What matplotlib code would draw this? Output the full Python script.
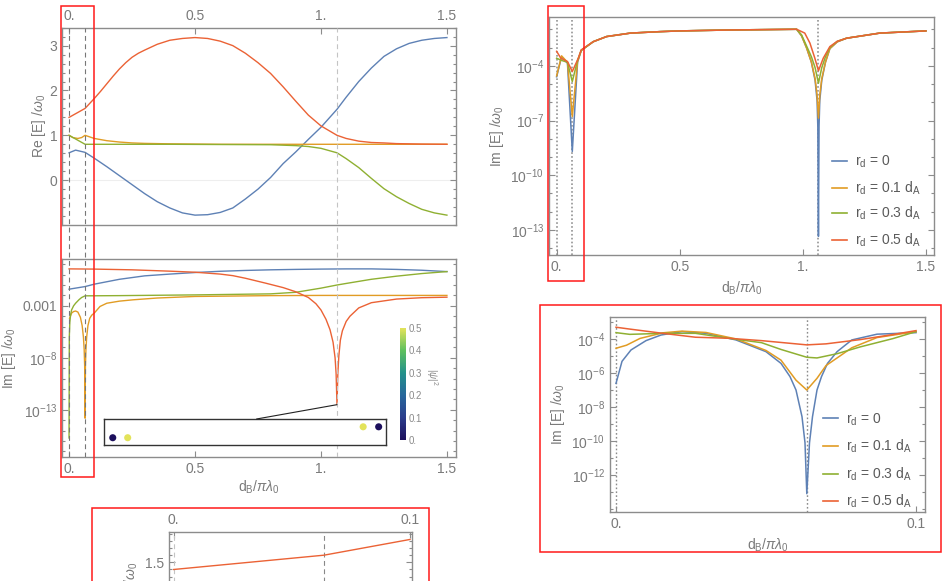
import numpy as np
import matplotlib
matplotlib.use('Agg')
import matplotlib.pyplot as plt
from matplotlib.patches import Rectangle, ConnectionPatch
from matplotlib.lines import Line2D
from matplotlib.colors import LinearSegmentedColormap, Normalize
from matplotlib.cm import ScalarMappable
from matplotlib.ticker import FixedLocator, NullFormatter, MultipleLocator

plt.rcParams['font.family'] = ['Liberation Sans', 'DejaVu Sans']
plt.rcParams['mathtext.fontset'] = 'custom'
plt.rcParams['mathtext.rm'] = 'Liberation Sans'
plt.rcParams['mathtext.it'] = 'Liberation Sans:italic'
plt.rcParams['mathtext.bf'] = 'Liberation Sans:bold'
plt.rcParams['lines.scale_dashes'] = False

# ---------------- data ----------------
series_labels = [r'r$_\mathrm{d}$ = 0', r'r$_\mathrm{d}$ = 0.1 d$_\mathrm{A}$',
                 r'r$_\mathrm{d}$ = 0.3 d$_\mathrm{A}$', r'r$_\mathrm{d}$ = 0.5 d$_\mathrm{A}$']
special_x = [0.0, 0.0636, 1.0636]

# Panel A: Re[E]/w0
a_x_blue = [0, 0.026, 0.0636, 0.1, 0.15, 0.2, 0.25, 0.3, 0.35, 0.4, 0.45, 0.5, 0.55, 0.6, 0.65,
            0.7, 0.75, 0.8, 0.85, 0.9, 0.95, 1.0, 1.0636, 1.1, 1.15, 1.2, 1.25, 1.3, 1.35, 1.4, 1.45, 1.5]
a_blue = [0.61, 0.67, 0.62, 0.49, 0.30, 0.10, -0.10, -0.30, -0.48, -0.62, -0.73, -0.78, -0.77, -0.72,
          -0.62, -0.42, -0.20, 0.06, 0.37, 0.63, 0.91, 1.18, 1.58, 1.85, 2.2, 2.5, 2.76, 2.93, 3.05,
          3.12, 3.16, 3.18]
a_x_orange = [0, 0.015, 0.035, 0.05, 0.0636, 0.1, 0.15, 0.2, 0.25, 0.3, 0.4, 0.6, 1.0, 1.5]
a_orange = [1.0, 0.95, 0.93, 0.95, 1.0, 0.93, 0.88, 0.85, 0.83, 0.82, 0.81, 0.80, 0.80, 0.80]
a_x_green = [0, 0.0636, 0.2, 0.4, 0.6, 0.8, 0.9, 0.95, 1.0, 1.0636, 1.1, 1.15, 1.2, 1.25, 1.3,
             1.35, 1.4, 1.45, 1.5]
a_green = [1.0, 0.80, 0.80, 0.80, 0.795, 0.79, 0.77, 0.75, 0.71, 0.61, 0.48, 0.28, 0.04, -0.19,
           -0.37, -0.52, -0.65, -0.73, -0.78]
a_x_red = [0, 0.0636, 0.1, 0.125, 0.15, 0.175, 0.2, 0.225, 0.25, 0.275, 0.3, 0.35, 0.4, 0.45, 0.5,
           0.55, 0.6, 0.65, 0.7, 0.75, 0.8, 0.85, 0.9, 0.95, 1.0, 1.0636, 1.1, 1.15, 1.2, 1.25,
           1.3, 1.4, 1.5]
a_red = [1.40, 1.60, 1.82, 1.98, 2.15, 2.32, 2.48, 2.62, 2.74, 2.83, 2.90, 3.03, 3.12, 3.16, 3.18,
         3.16, 3.10, 3.0, 2.83, 2.62, 2.38, 2.08, 1.76, 1.45, 1.21, 1.0, 0.93, 0.87, 0.84, 0.83,
         0.815, 0.805, 0.80]

# Panel B: log10(Im[E]/w0)
b_x_blue = [0, 0.0636, 0.1, 0.2, 0.3, 0.4, 0.5, 0.6, 0.7, 0.8, 0.9, 1.0, 1.1, 1.2, 1.3, 1.4, 1.5]
b_blue = [-1.4, -1.15, -0.92, -0.45, -0.12, 0.05, 0.2, 0.32, 0.4, 0.46, 0.5, 0.53, 0.55, 0.55,
          0.5, 0.42, 0.29]
b_x_orange = [0.002, 0.01, 0.018, 0.026, 0.035, 0.045, 0.052, 0.057, 0.06, 0.062, 0.0636, 0.065,
              0.067, 0.07, 0.075, 0.082, 0.09, 0.1, 0.123, 0.15, 0.2, 0.255, 0.35, 0.5, 0.8, 1.0, 1.5]
b_orange = [-4.2, -3.7, -3.55, -3.5, -3.6, -4.1, -4.9, -6.0, -7.2, -8.8, -13.8, -8.8, -7.2, -6.0,
            -4.9, -4.2, -3.9, -3.7, -3.06, -2.75, -2.55, -2.42, -2.25, -2.1, -2.02, -2.0, -2.0]
b_x_green = [0, 0.001, 0.003, 0.006, 0.01, 0.018, 0.026, 0.04, 0.05, 0.0636, 0.2, 0.5, 0.8, 0.9,
             0.95, 1.0, 1.0636, 1.1, 1.2, 1.3, 1.4, 1.5]
b_green = [-15.7, -6.0, -4.6, -3.9, -3.4, -3.0, -2.75, -2.4, -2.2, -2.04, -2.02, -1.95, -1.85,
           -1.7, -1.5, -1.3, -1.0, -0.85, -0.45, -0.15, 0.1, 0.29]
b_x_red = [0, 0.1, 0.25, 0.4, 0.5, 0.6, 0.65, 0.7, 0.78, 0.85, 0.9, 0.95, 0.98, 1.0, 1.02, 1.036,
           1.048, 1.056, 1.06, 1.0636, 1.067, 1.071, 1.077, 1.085, 1.1, 1.115, 1.15, 1.2, 1.3,
           1.4, 1.5]
b_red = [0.55, 0.53, 0.46, 0.33, 0.23, 0.05, -0.1, -0.35, -0.82, -1.25, -1.65, -2.2, -2.8, -3.4,
         -4.3, -5.3, -6.5, -8.0, -9.5, -12.5, -9.5, -7.8, -6.3, -5.4, -4.5, -4.0, -3.2, -2.7,
         -2.35, -2.22, -2.17]

# inset markers in panel B
dot_x = [0.031, 0.084, 0.919, 0.974]
dot_y = [0.28, 0.28, 0.70, 0.70]
dot_psi2 = [0.0, 0.5, 0.5, 0.0]

# Panel C: log10(Im[E]/w0), shared parts
c_x_mid = [0.149, 0.203, 0.3, 0.42, 0.5, 0.7, 0.975]
c_mid = [-2.67, -2.39, -2.2, -2.12, -2.08, -2.03, -1.99]
c_x_tail = [1.178, 1.313, 1.5]
c_tail = [-2.48, -2.2, -2.08]
c_x_head_blue = [0, 0.02, 0.044, 0.0636, 0.085, 0.1]
c_head_blue = [-4.6, -3.5, -3.85, -8.7, -3.8, -3.15]
c_x_head_orange = [0, 0.02, 0.044, 0.0636, 0.085, 0.1]
c_head_orange = [-4.55, -3.45, -3.8, -6.78, -3.75, -3.15]
c_x_head_green = [0, 0.02, 0.044, 0.0636, 0.085, 0.1]
c_head_green = [-3.58, -3.7, -3.8, -4.86, -3.7, -3.15]
c_x_head_red = [0, 0.017, 0.044, 0.0636, 0.088, 0.1]
c_head_red = [-3.2, -3.58, -3.76, -4.31, -3.58, -3.12]
c_x_dip_blue = [0.995, 1.015, 1.035, 1.05, 1.058, 1.061, 1.0636, 1.066, 1.069, 1.077, 1.092, 1.11, 1.14]
c_dip_blue = [-2.35, -3.0, -3.8, -4.8, -5.9, -7.3, -13.36, -7.3, -5.9, -4.8, -3.8, -3.05, -2.68]
c_x_dip_orange = [0.995, 1.015, 1.035, 1.05, 1.058, 1.0636, 1.069, 1.077, 1.092, 1.11, 1.14]
c_dip_orange = [-2.35, -3.0, -3.8, -4.7, -5.6, -6.87, -5.6, -4.7, -3.8, -3.05, -2.68]
c_x_dip_green = [0.995, 1.015, 1.035, 1.05, 1.0636, 1.077, 1.092, 1.11, 1.14]
c_dip_green = [-2.3, -2.9, -3.5, -4.1, -4.95, -4.1, -3.5, -3.0, -2.65]
c_x_dip_red = [1.008, 1.029, 1.049, 1.0636, 1.083, 1.11, 1.14]
c_dip_red = [-2.2, -2.75, -3.58, -4.27, -3.58, -2.94, -2.65]

# Panel D: log10(Im[E]/w0), zoom 0..0.1
d_x_blue = [0, 0.002, 0.005, 0.01, 0.015, 0.022, 0.03, 0.04, 0.05, 0.055, 0.058, 0.06, 0.062, 0.063,
            0.0636, 0.0645, 0.0655, 0.067, 0.0685, 0.0705, 0.0737, 0.0786, 0.087, 0.1]
d_blue = [-6.6, -5.3, -4.63, -4.08, -3.75, -3.55, -3.65, -4.04, -4.73, -5.42, -6.2, -6.99, -8.56,
          -10.1, -13.1, -10.1, -8.56, -6.99, -6.2, -5.42, -4.73, -4.04, -3.7, -3.61]
d_x_orange = [0, 0.0035, 0.008, 0.0156, 0.022, 0.03, 0.04, 0.05, 0.055, 0.06, 0.0636, 0.067, 0.07,
              0.0737, 0.0786, 0.087, 0.1]
d_orange = [-4.53, -4.35, -3.95, -3.62, -3.52, -3.6, -3.98, -4.66, -5.23, -6.41, -6.99, -6.3, -5.55,
            -5.1, -4.5, -3.9, -3.55]
d_x_green = [0, 0.0046, 0.0156, 0.0265, 0.0375, 0.0485, 0.055, 0.0636, 0.067, 0.0737, 0.0814, 0.0923, 0.1]
d_green = [-3.61, -3.71, -3.65, -3.65, -3.94, -4.2, -4.6, -5.06, -5.1, -4.85, -4.45, -3.96, -3.55]
d_x_red = [0, 0.0046, 0.0156, 0.0265, 0.0375, 0.0485, 0.0636, 0.07, 0.0814, 0.0923, 0.1]
d_red = [-3.29, -3.4, -3.65, -3.88, -3.94, -4.08, -4.33, -4.27, -4.02, -3.72, -3.49]

# ---------------- style ----------------
COLORS = ['#5E81B5', '#E19C24', '#8FB032', '#EB6235']
FRAME = '#8c8c8c'
TXT = '#7a7a7a'
W, H = 948, 581
fig = plt.figure(figsize=(W / 100, H / 100), dpi=100)


def add_ax(l, t, r, b):
    return fig.add_axes([l / W, 1 - b / H, (r - l) / W, (b - t) / H])


def fx(x):
    return x / W


def fy(y):
    return 1 - y / H


def style(ax):
    for s in ax.spines.values():
        s.set_color(FRAME)
        s.set_linewidth(1.0)
    ax.tick_params(which='both', direction='in', color=FRAME, labelcolor=TXT, labelsize=10, width=0.8)
    ax.tick_params(which='major', length=4)
    ax.tick_params(which='minor', length=2.2)


def pw(v):
    return 10.0 ** np.asarray(v, dtype=float)


def log_ticks(ax, majors, lo, hi):
    ax.yaxis.set_major_locator(FixedLocator([10.0 ** k for k in majors]))
    labs = []
    for k in majors:
        labs.append('0.001' if k == -3 else r'$10^{%d}$' % k)
    ax.set_yticklabels(labs)
    ax.yaxis.set_minor_locator(FixedLocator([10.0 ** k for k in range(lo, hi + 1) if k not in majors]))
    ax.yaxis.set_minor_formatter(NullFormatter())


xt = [0, 0.5, 1.0, 1.5]
xtl = ['0.', '0.5', '1.', '1.5']
lw = 1.0

# ---------------- Panel A ----------------
axA = add_ax(62, 27.7, 456, 225)
style(axA)
axA.axhline(0, color='#eeeeee', lw=0.8, zorder=0)
for xs, ys, c in [(a_x_blue, a_blue, COLORS[0]), (a_x_orange, a_orange, COLORS[1]),
                  (a_x_green, a_green, COLORS[2]), (a_x_red, a_red, COLORS[3])]:
    axA.plot(xs, ys, color=c, lw=lw)
axA.set_xlim(-0.028, 1.536)
axA.set_ylim(-1.0, 3.4)
axA.set_xticks(xt, xtl)
axA.tick_params(axis='x', top=True, labeltop=True, bottom=False, labelbottom=False)
axA.set_yticks([0, 1, 2, 3], ['0', '1', '2', '3'])
axA.yaxis.set_minor_locator(MultipleLocator(0.2))
axA.tick_params(axis='y', which='both', left=True, right=True)
axA.set_ylabel(r'Re [E] /$\omega_0$', fontsize=10, color=TXT, labelpad=1)

# ---------------- Panel B ----------------
axB = add_ax(62, 259, 456, 456.7)
style(axB)
axB.set_yscale('log')
for xs, ys, c in [(b_x_blue, b_blue, COLORS[0]), (b_x_orange, b_orange, COLORS[1]),
                  (b_x_green, b_green, COLORS[2]), (b_x_red, b_red, COLORS[3])]:
    axB.plot(xs, pw(ys), color=c, lw=lw)
axB.set_xlim(-0.028, 1.536)
axB.set_ylim(10 ** -17.5, 10 ** 1.5)
axB.set_xticks(xt, xtl)
axB.tick_params(axis='x', top=False, bottom=True)
log_ticks(axB, [-3, -8, -13], -17, 1)
axB.tick_params(axis='y', which='both', left=True, right=True)
axB.set_ylabel(r'Im [E] /$\omega_0$', fontsize=10, color=TXT, labelpad=3)
axB.set_xlabel(r'd$_\mathrm{B}$/$\pi\lambda_0$', fontsize=10, color=TXT, labelpad=2)

# overlay of dashed vertical lines across A and B
ov = add_ax(62, 27.7, 456, 456.7)
ov.set_xlim(-0.028, 1.536)
ov.set_ylim(0, 1)
ov.axis('off')
ov.patch.set_alpha(0)
for i, xv in enumerate(special_x):
    ov.axvline(xv, color='#777777' if i < 2 else '#c4c4c4', lw=0.8, linestyle=(0, (3.5, 2.5)))

# inset with markers
cmap = LinearSegmentedColormap.from_list('mma', ['#1c0f5c', '#2b3d8c', '#27679b', '#23918a',
                                                 '#5ec05e', '#e3e35a'])
ins = add_ax(104, 419, 386, 445)
ins.set_xlim(0, 1)
ins.set_ylim(0, 1)
ins.set_xticks([])
ins.set_yticks([])
for s in ins.spines.values():
    s.set_color('#333333')
    s.set_linewidth(1.0)
ins.scatter(dot_x, dot_y, c=dot_psi2, cmap=cmap, vmin=0, vmax=0.5, s=26, linewidths=0)
con = ConnectionPatch(xyA=(special_x[2], 10 ** b_red[19]), coordsA=axB.transData,
                      xyB=(0.541, 1.0), coordsB=ins.transAxes, color='#222222', lw=0.8)
fig.add_artist(con)

# colorbar
cax = add_ax(400, 328, 406, 440)
cb = fig.colorbar(ScalarMappable(norm=Normalize(0, 0.5), cmap=cmap), cax=cax)
cb.outline.set_visible(False)
cb.set_ticks([0, 0.1, 0.2, 0.3, 0.4, 0.5])
cb.set_ticklabels(['0.', '0.1', '0.2', '0.3', '0.4', '0.5'])
cax.tick_params(length=0, labelsize=7, labelcolor='#8a8a8a', pad=2)
fig.text(fx(432), fy(377), r'$|\psi|^2$', rotation=270, fontsize=7, color='#8a8a8a',
         ha='center', va='center')

# ---------------- Panel C ----------------
axC = add_ax(549, 16.7, 934, 255.3)
style(axC)
axC.set_yscale('log')
for i, xv in enumerate(special_x):
    axC.axvline(xv, color='#8a8a8a', lw=1.1, linestyle=(0, (1.2, 1.6)), zorder=1)
curves_c = [
    (c_x_head_blue, c_head_blue, c_x_dip_blue, c_dip_blue),
    (c_x_head_orange, c_head_orange, c_x_dip_orange, c_dip_orange),
    (c_x_head_green, c_head_green, c_x_dip_green, c_dip_green),
    (c_x_head_red, c_head_red, c_x_dip_red, c_dip_red),
]
for (hx, hy, dx, dy), c in zip(curves_c, COLORS):
    xs = list(hx) + c_x_mid + list(dx) + c_x_tail
    ys = list(hy) + c_mid + list(dy) + c_tail
    axC.plot(xs, pw(ys), color=c, lw=1.1, zorder=2)
axC.set_xlim(-0.031, 1.533)
axC.set_ylim(10 ** -14.4, 10 ** -1.3)
axC.set_xticks(xt, xtl)
axC.tick_params(axis='x', top=False, bottom=True)
log_ticks(axC, [-4, -7, -10, -13], -14, -2)
axC.tick_params(axis='y', which='both', left=True, right=True)
axC.set_ylabel(r'Im [E] /$\omega_0$', fontsize=10, color=TXT, labelpad=3)
axC.set_xlabel(r'd$_\mathrm{B}$/$\pi\lambda_0$', fontsize=10, color=TXT, labelpad=4)

rows_c = [161, 187.7, 213.3, 240]
for lab, c, yy in zip(series_labels, COLORS, rows_c):
    fig.add_artist(Line2D([fx(831.7), fx(846.7)], [fy(yy), fy(yy)], color=c, lw=1.2))
    fig.text(fx(855), fy(yy + 4.7), lab, fontsize=10, color='#5a5a5a', ha='left', va='baseline')

# ---------------- Panel D ----------------
axD = add_ax(610, 316.7, 925, 511.7)
style(axD)
axD.set_yscale('log')
for xv in special_x[:2]:
    axD.axvline(xv, color='#8a8a8a', lw=1.0, linestyle=(0, (1.2, 1.6)), zorder=1)
for xs, ys, c in [(d_x_blue, d_blue, COLORS[0]), (d_x_orange, d_orange, COLORS[1]),
                  (d_x_green, d_green, COLORS[2]), (d_x_red, d_red, COLORS[3])]:
    axD.plot(xs, pw(ys), color=c, lw=1.1, zorder=2)
axD.set_xlim(-0.002, 0.103)
axD.set_ylim(10 ** -14.16, 10 ** -2.67)
axD.set_xticks([0, 0.1], ['0.', '0.1'])
axD.tick_params(axis='x', top=False, bottom=True)
log_ticks(axD, [-4, -6, -8, -10, -12], -14, -3)
axD.tick_params(axis='y', which='both', left=True, right=True)
axD.set_ylabel(r'Im [E] /$\omega_0$', fontsize=10, color=TXT, labelpad=3)
axD.set_xlabel(r'd$_\mathrm{B}$/$\pi\lambda_0$', fontsize=10, color=TXT, labelpad=4)

rows_d = [418.3, 446, 474, 500.7]
for lab, c, yy in zip(series_labels, COLORS, rows_d):
    fig.add_artist(Line2D([fx(823.3), fx(838.3)], [fy(yy), fy(yy)], color=c, lw=1.2))
    fig.text(fx(846), fy(yy + 5), lab, fontsize=10, color='#5a5a5a', ha='left', va='baseline')

# ---------------- Panel E (zoom of A, cropped at the figure edge) ----------------
axE = add_ax(169.3, 532.3, 412.3, 656)
style(axE)
for i, xv in enumerate(special_x[:2]):
    axE.axvline(xv, color='#c4c4c4' if i == 0 else '#888888', lw=0.8, linestyle=(0, (3.5, 2.5)))
e_mask = [i for i, v in enumerate(a_x_red) if v <= 0.1]
axE.plot([a_x_red[i] for i in e_mask], [a_red[i] for i in e_mask], color=COLORS[3], lw=lw)
axE.set_xlim(-0.00186, 0.10097)
axE.set_ylim(0.19, 1.92)
axE.set_xticks([0, 0.1], ['0.', '0.1'])
axE.tick_params(axis='x', top=True, labeltop=True, bottom=False, labelbottom=False)
axE.set_yticks([1.5], ['1.5'])
axE.yaxis.set_minor_locator(MultipleLocator(0.1))
axE.tick_params(axis='y', which='both', left=True, right=True)
axE.set_ylabel(r'Re [E] /$\omega_0$', fontsize=10, color=TXT, labelpad=4)

# ---------------- red highlight boxes ----------------
def red_box(x0, y0, x1, y1):
    fig.add_artist(Rectangle((fx(x0), fy(y1)), (x1 - x0) / W, (y1 - y0) / H,
                             transform=fig.transFigure, fill=False, ec='#ff1a1a', lw=1.1))

red_box(61, 6, 94.3, 476.7)
red_box(548.3, 6, 584.3, 281)
red_box(540, 305, 940.7, 552.3)
red_box(91.7, 508.3, 429, 600)

fig.savefig('out.png', dpi=100)
